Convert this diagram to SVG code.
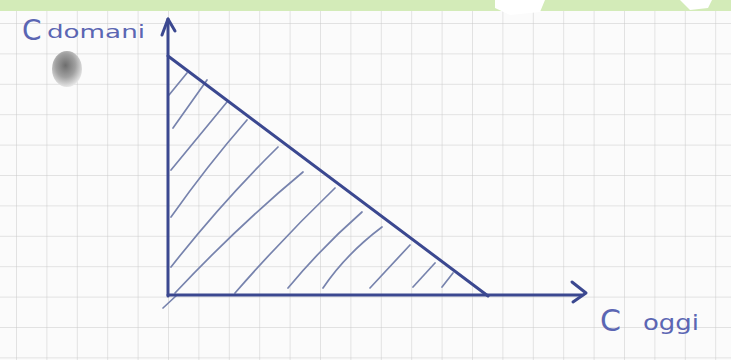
<svg xmlns="http://www.w3.org/2000/svg" width="731" height="360" viewBox="0 0 731 360">
<defs>
<radialGradient id="hole" cx="0.45" cy="0.4" r="0.6">
<stop offset="0" stop-color="#6e6e6e"/>
<stop offset="0.55" stop-color="#a0a0a0"/>
<stop offset="1" stop-color="#e6e6e6"/>
</radialGradient>
<pattern id="grid" x="16" y="23" width="30.4" height="30.4" patternUnits="userSpaceOnUse">
<path d="M0 0H30.4M0 0V30.4" fill="none" stroke="#c9c9c9" stroke-width="1"/>
</pattern>
</defs>
<style>
.ax{fill:none;stroke:#3b4890;stroke-width:3;stroke-linecap:round;stroke-linejoin:round}
.ha{fill:none;stroke:#7783ad;stroke-width:1.7;stroke-linecap:round}
.t{fill:#5b66b3;font-family:"DejaVu Sans",sans-serif}
</style>
<rect width="731" height="360" fill="#fbfbfb"/>
<rect width="731" height="360" fill="url(#grid)"/>
<rect x="0" y="0" width="731" height="11" fill="#d3ebb8"/>
<path d="M495 0 L545 0 L540 12 L510 15 L495 8Z" fill="#ffffff"/>
<path d="M680 0 L712 0 L708 8 L690 10Z" fill="#ffffff"/>
<ellipse cx="67" cy="69" rx="15" ry="18" fill="url(#hole)"/>
<g id="hatching">
<path class="ha" d="M169 95 L187 73"/>
<path class="ha" d="M173 128 L207 80"/>
<path class="ha" d="M171 170 L227 102"/>
<path class="ha" d="M171 217 Q207 166 247 120"/>
<path class="ha" d="M171 267 Q222 202 278 147"/>
<path class="ha" d="M175 293 Q238 226 303 172"/>
<path class="ha" d="M235 293 Q283 238 335 188"/>
<path class="ha" d="M288 288 Q322 247 362 212"/>
<path class="ha" d="M323 288 Q346 254 382 227"/>
<path class="ha" d="M370 288 L410 245"/>
<path class="ha" d="M413 287 L435 263"/>
<path class="ha" d="M442 287 L453 273"/>
<path class="ha" d="M163 308 L177 295"/>
</g>
<g id="connectors">
<path id="y-axis" class="ax" d="M168 296 L168 19"/>
<path class="ax" d="M162 35 L168 19 L175 31"/>
<path id="x-axis" class="ax" d="M168 295 L582 295"/>
<path class="ax" d="M572 282 L586 293 L573 302"/>
<path id="budget" class="ax" d="M168 56 L488 296"/>
</g>
<g id="label-domani">
<text class="t" x="22" y="40" font-size="28">C</text>
<text class="t" x="47" y="38" font-size="17" textLength="98" lengthAdjust="spacingAndGlyphs">domani</text>
</g>
<g id="label-oggi">
<text class="t" x="600" y="331" font-size="30">C</text>
<text class="t" x="643" y="330" font-size="21" textLength="56" lengthAdjust="spacingAndGlyphs">oggi</text>
</g>
</svg>
